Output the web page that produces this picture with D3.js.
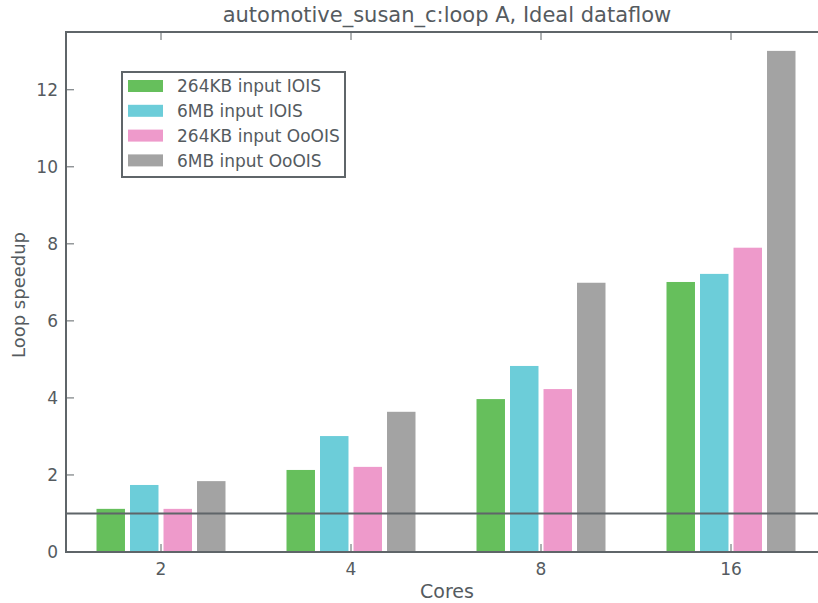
<!DOCTYPE html>
<html>
<head>
<meta charset="utf-8">
<script src="https://cdn.jsdelivr.net/npm/d3@7"></script>
<style>
  body { margin: 0; background: #fff; }
  text { font-family: "DejaVu Sans", sans-serif; fill: #555b5f; }
</style>
</head>
<body>
<script>
// speedup per core count, one array per input/issue config
var cores = ["2", "4", "8", "16"];
var seriesNames = ["264KB input IOIS", "6MB input IOIS", "264KB input OoOIS", "6MB input OoOIS"];
var small_IOIS = [1.12, 2.13, 3.97, 7.01];
var large_IOIS = [1.74, 3.01, 4.83, 7.22];
var small_OoOIS = [1.12, 2.21, 4.23, 7.90];
var large_OoOIS = [1.84, 3.64, 6.99, 13.01];
var yTicks = [0, 2, 4, 6, 8, 10, 12];
var colors = ["#66bf5c", "#6ccdd9", "#ee9acb", "#a3a3a3"];
var axisColor = "#5f6569";

var allSeries = [small_IOIS, large_IOIS, small_OoOIS, large_OoOIS];

var W = 818, H = 603;
// plot box (right edge runs past the window, as in the original)
var pLeft = 66, pRight = 826, pTop = 32, pBottom = 552;

var svg = d3.select("body").append("svg")
    .attr("width", W)
    .attr("height", H);

var x = d3.scaleBand().domain(cores).range([pLeft, pRight]).padding(0);
var sub = d3.scaleBand().domain(d3.range(4)).range([-64.5, 64.5]).paddingInner(0.15);
var y = d3.scaleLinear().domain([0, 13.5]).range([pBottom, pTop]);

// bars
allSeries.forEach(function(vals, s) {
    svg.append("g").selectAll("rect")
        .data(vals)
        .enter().append("rect")
        .attr("x", function(d, i) { return x(cores[i]) + x.bandwidth() / 2 + sub(s); })
        .attr("y", function(d) { return y(d); })
        .attr("width", sub.bandwidth())
        .attr("height", function(d) { return y(0) - y(d); })
        .style("fill", colors[s]);
});

// reference line at speedup 1
svg.append("line")
    .attr("x1", pLeft).attr("x2", pRight)
    .attr("y1", y(1)).attr("y2", y(1))
    .style("stroke", axisColor)
    .style("stroke-width", 2);

// frame
svg.append("rect")
    .attr("x", pLeft).attr("y", pTop)
    .attr("width", pRight - pLeft).attr("height", pBottom - pTop)
    .style("fill", "none")
    .style("stroke", axisColor)
    .style("stroke-width", 2);

// y ticks (inward on both sides)
var yg = svg.append("g");
yTicks.forEach(function(t) {
    yg.append("line")
        .attr("x1", pLeft).attr("x2", pLeft + 8)
        .attr("y1", y(t)).attr("y2", y(t))
        .style("stroke", axisColor);
    yg.append("line")
        .attr("x1", pRight - 8).attr("x2", pRight)
        .attr("y1", y(t)).attr("y2", y(t))
        .style("stroke", axisColor);
    yg.append("text")
        .attr("x", pLeft - 8)
        .attr("y", y(t))
        .attr("dy", "0.36em")
        .attr("text-anchor", "end")
        .style("font-size", "17px")
        .text(t);
});

// x ticks (inward top and bottom)
var xg = svg.append("g");
cores.forEach(function(c) {
    var cx = x(c) + x.bandwidth() / 2;
    xg.append("line")
        .attr("x1", cx).attr("x2", cx)
        .attr("y1", pBottom).attr("y2", pBottom - 8)
        .style("stroke", axisColor);
    xg.append("line")
        .attr("x1", cx).attr("x2", cx)
        .attr("y1", pTop).attr("y2", pTop + 8)
        .style("stroke", axisColor);
    xg.append("text")
        .attr("x", cx)
        .attr("y", pBottom + 23)
        .attr("text-anchor", "middle")
        .style("font-size", "17px")
        .text(c);
});

// titles
svg.append("text")
    .attr("x", 447).attr("y", 22)
    .attr("text-anchor", "middle")
    .style("font-size", "21px")
    .text("automotive_susan_c:loop A, Ideal dataflow");

svg.append("text")
    .attr("x", 447).attr("y", 598)
    .attr("text-anchor", "middle")
    .style("font-size", "19px")
    .text("Cores");

svg.append("text")
    .attr("transform", "translate(25," + 295 + ")rotate(-90)")
    .attr("text-anchor", "middle")
    .style("font-size", "18px")
    .text("Loop speedup");

// legend
var lg = svg.append("g");
lg.append("rect")
    .attr("x", 122).attr("y", 72)
    .attr("width", 223).attr("height", 105)
    .style("fill", "#fff")
    .style("stroke", axisColor)
    .style("stroke-width", 2);
seriesNames.forEach(function(name, i) {
    var ry = 86 + i * 24.8;
    lg.append("rect")
        .attr("x", 128).attr("y", ry - 6)
        .attr("width", 35).attr("height", 12)
        .style("fill", colors[i]);
    lg.append("text")
        .attr("x", 177).attr("y", ry)
        .attr("dy", "0.36em")
        .style("font-size", "17px")
        .text(name);
});
</script>
</body>
</html>
